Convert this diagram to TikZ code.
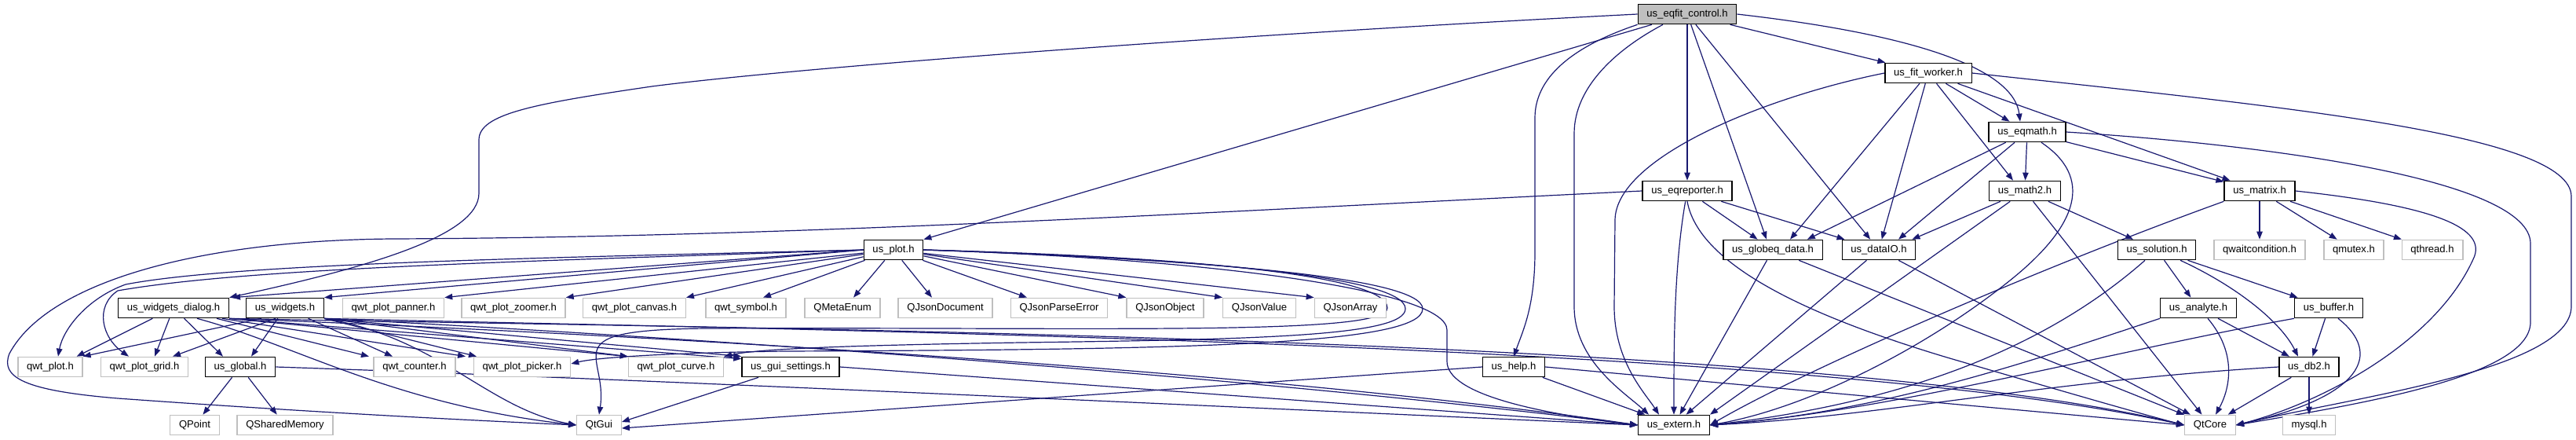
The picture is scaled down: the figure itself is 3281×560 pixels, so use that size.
\documentclass[tikz,border=0pt]{standalone}
\usepackage{fontspec}
\setmainfont{Liberation Sans}
\usetikzlibrary{arrows.meta,calc,backgrounds}
\definecolor{dgedge}{RGB}{25,25,112}
\definecolor{dggray}{RGB}{191,191,191}
\tikzset{
  dgFile/.style={draw=black, line width=1pt, fill=white, minimum height=19pt,
                 inner xsep=8.4pt, inner ysep=0pt,
                 font=\fontsize{9.8pt}{11pt}\selectfont},
  dgSys/.style={dgFile, draw=dggray},
  dgRoot/.style={dgFile, fill=dggray},
  dgEdge/.style={-{Triangle[length=7.5pt,width=5.6pt]}, line width=0.9pt, draw=dgedge}
}

\begin{document}
\begin{tikzpicture}[x=0.75pt,y=-0.75pt]
  \useasboundingbox (0,0) rectangle (3281,560);

  \node[dgRoot] (root) at (2149,18) {us\_eqfit\_control.h};
  \node[dgFile] (fitw) at (2456,93) {us\_fit\_worker.h};
  \node[dgFile] (eqmath) at (2582,168) {us\_eqmath.h};
  \node[dgFile] (eqrep) at (2149,243) {us\_eqreporter.h};
  \node[dgFile] (math2) at (2579,243) {us\_math2.h};
  \node[dgFile] (matrix) at (2878,243) {us\_matrix.h};
  \node[dgFile] (plot) at (1138,318) {us\_plot.h};
  \node[dgFile] (globeq) at (2258,318) {us\_globeq\_data.h};
  \node[dgFile] (dataio) at (2393,318) {us\_dataIO.h};
  \node[dgFile] (solution) at (2747,318) {us\_solution.h};
  \node[dgSys] (qwait) at (2878,318) {qwaitcondition.h};
  \node[dgSys] (qmutex) at (2998,318) {qmutex.h};
  \node[dgSys] (qthread) at (3098,318) {qthread.h};
  \node[dgFile] (wdialog) at (221,392) {us\_widgets\_dialog.h};
  \node[dgFile] (widgets) at (363,392) {us\_widgets.h};
  \node[dgSys] (panner) at (501,392) {qwt\_plot\_panner.h};
  \node[dgSys] (zoomer) at (654,392) {qwt\_plot\_zoomer.h};
  \node[dgSys] (canvas) at (808,392) {qwt\_plot\_canvas.h};
  \node[dgSys] (symbol) at (950,392) {qwt\_symbol.h};
  \node[dgSys] (metaenum) at (1073,392) {QMetaEnum};
  \node[dgSys] (jdoc) at (1204,392) {QJsonDocument};
  \node[dgSys] (jerr) at (1349,392) {QJsonParseError};
  \node[dgSys] (jobj) at (1484,392) {QJsonObject};
  \node[dgSys] (jval) at (1604,392) {QJsonValue};
  \node[dgSys] (jarr) at (1720,392) {QJsonArray};
  \node[dgFile] (analyte) at (2800,392) {us\_analyte.h};
  \node[dgFile] (buffer) at (2966,392) {us\_buffer.h};
  \node[dgSys] (qwtplot) at (64,467) {qwt\_plot.h};
  \node[dgSys] (grid) at (184,467) {qwt\_plot\_grid.h};
  \node[dgFile] (global) at (306,467) {us\_global.h};
  \node[dgSys] (counter) at (528,467) {qwt\_counter.h};
  \node[dgSys] (picker) at (665,467) {qwt\_plot\_picker.h};
  \node[dgSys] (curve) at (861,467) {qwt\_plot\_curve.h};
  \node[dgFile] (gui) at (1007,467) {us\_gui\_settings.h};
  \node[dgFile] (help) at (1928,467) {us\_help.h};
  \node[dgFile] (db2) at (2941,467) {us\_db2.h};
  \node[dgSys] (qpoint) at (248,541) {QPoint};
  \node[dgSys] (qshm) at (363,541) {QSharedMemory};
  \node[dgSys] (qtgui) at (763,541) {QtGui};
  \node[dgFile] (extern) at (2132,541) {us\_extern.h};
  \node[dgSys] (qtcore) at (2815,541) {QtCore};
  \node[dgSys] (mysql) at (2941,541) {mysql.h};

  \begin{scope}[on background layer]
  \draw[dgEdge] (root.west) .. controls (1500,48) and (1000,88) .. (830,110) .. controls (680,132) and (610,145) .. (610,178) -- (610,246) .. controls (610,300) and (470,340) .. (wdialog.north east);
  \draw[dgEdge] (root) -- (plot.north east);
  \draw[dgEdge] (root.south west) .. controls (2000,60) and (1955,100) .. (1955,150) -- (1955,320) .. controls (1955,390) and (1940,420) .. (help.north);
  \draw[dgEdge] ($(root.south)+(-31,0)$) .. controls (2060,62) and (2005,110) .. (2005,170) -- (2005,390) .. controls (2005,460) and (2070,500) .. ($(extern.north)+(-32,0)$);
  \draw[dgEdge] (root) -- (eqrep);
  \draw[dgEdge] (root) -- ($(globeq.north)+(-8,0)$);
  \draw[dgEdge] (root) -- (dataio);
  \draw[dgEdge] (root) -- (fitw);
  \draw[dgEdge] (root.east) .. controls (2450,45) and (2565,90) .. ($(eqmath.north)+(-9,0)$);

  \draw[dgEdge] (fitw.west) .. controls (2250,123) and (2058,200) .. (2057,280) -- (2056,390) .. controls (2056,460) and (2095,500) .. ($(extern.north)+(-19,0)$);
  \draw[dgEdge] (fitw) -- ($(globeq.north)+(22,0)$);
  \draw[dgEdge] (fitw) -- (dataio);
  \draw[dgEdge] (fitw) -- ($(math2.north)+(-15,0)$);
  \draw[dgEdge] (fitw) -- (eqmath);
  \draw[dgEdge] (fitw) -- (matrix);
  \draw[dgEdge] (fitw.east) .. controls (2900,135) and (3275,170) .. (3275,250) -- (3275,390) .. controls (3275,470) and (3000,505) .. (qtcore.east);

  \draw[dgEdge] (eqmath) -- (math2);
  \draw[dgEdge] (eqmath) -- (matrix);
  \draw[dgEdge] (eqmath.east) .. controls (2900,185) and (3223,230) .. (3223,310) -- (3223,410) .. controls (3223,480) and (3000,515) .. (qtcore.east);
  \draw[dgEdge] (eqmath) -- ($(globeq.north east)+(-20,0)$);
  \draw[dgEdge] (eqmath) -- ($(dataio.north)+(25,0)$);
  \draw[dgEdge] ($(eqmath.south)+(18,0)$) .. controls (2665,225) and (2650,285) .. (2560,357) .. controls (2450,445) and (2300,520) .. (extern.east);

  \draw[dgEdge] (eqrep) -- (globeq);
  \draw[dgEdge] (eqrep) -- ($(dataio.north west)+(4,0)$);
  \draw[dgEdge] (eqrep) .. controls (2132,340) and (2132,440) .. (extern);
  \draw[dgEdge] (eqrep.south) .. controls (2165,345) and (2330,410) .. (2480,455) .. controls (2600,490) and (2720,525) .. (qtcore.west);
  \draw[dgEdge] (eqrep.west) .. controls (1500,272) and (1000,302) .. (500,304) .. controls (250,306) and (60,360) .. (12,450) .. controls (0,480) and (30,497) .. (150,507) .. controls (400,525) and (600,535) .. (qtgui.west);

  \draw[dgEdge] (math2) -- ($(dataio.north east)+(-5,0)$);
  \draw[dgEdge] (math2) -- (extern.north east);
  \draw[dgEdge] (math2) -- (solution);
  \draw[dgEdge] (math2) -- (qtcore);

  \draw[dgEdge] (matrix) -- (qwait);
  \draw[dgEdge] (matrix) -- (qmutex);
  \draw[dgEdge] (matrix) -- (qthread);
  \draw[dgEdge] (matrix.east) .. controls (3100,262) and (3170,290) .. (3150,330) .. controls (3100,440) and (2950,515) .. (qtcore.east);
  \draw[dgEdge] (matrix.south west) .. controls (2600,340) and (2300,470) .. (extern.east);

  \draw[dgEdge] (solution) -- (analyte);
  \draw[dgEdge] (solution) -- (buffer);
  \draw[dgEdge] ($(solution.south)+(30,0)$) .. controls (2850,365) and (2905,410) .. ($(db2.north)+(-14,0)$);
  \draw[dgEdge] ($(solution.south)+(-15,0)$) .. controls (2620,430) and (2450,510) .. (extern.east);

  \draw[dgEdge] (analyte) -- (db2);
  \draw[dgEdge] ($(analyte.south)+(12,0)$) .. controls (2850,450) and (2840,495) .. ($(qtcore.north)+(7,0)$);
  \draw[dgEdge] (analyte.south west) .. controls (2600,455) and (2400,525) .. (extern.east);

  \draw[dgEdge] (buffer) -- (db2);
  \draw[dgEdge] ($(buffer.south)+(12,0)$) .. controls (3035,450) and (3010,505) .. (qtcore.east);
  \draw[dgEdge] (buffer.south west) .. controls (2700,445) and (2400,525) .. (extern.east);

  \draw[dgEdge] (db2) -- (mysql);
  \draw[dgEdge] (db2) -- (qtcore);
  \draw[dgEdge] (db2.west) .. controls (2600,485) and (2400,530) .. (extern.east);

  \draw[dgEdge] (globeq) -- (extern);
  \draw[dgEdge] (globeq) -- (qtcore);
  \draw[dgEdge] (dataio) -- (extern);
  \draw[dgEdge] (dataio) -- (qtcore);

  \draw[dgEdge] (help.west) -- ($(qtgui.east)+(0,4)$);
  \draw[dgEdge] (help) -- (extern);
  \draw[dgEdge] (help.east) -- (qtcore.west);

  \draw[dgEdge] (gui) -- ($(qtgui.east)+(0,-4)$);
  \draw[dgEdge] (gui.east) -- (extern.west);

  \draw[dgEdge] (plot.west) -- ($(wdialog.north east)+(4,0)$);
  \draw[dgEdge] (plot.west) -- (widgets.north east);
  \draw[dgEdge] (plot.west) .. controls (700,328) and (300,335) .. (160,362) .. controls (110,380) and (80,420) .. ($(qwtplot.north)+(10,0)$);
  \draw[dgEdge] (plot.west) .. controls (700,332) and (320,340) .. (150,370) .. controls (120,390) and (130,430) .. ($(grid.north)+(-20,0)$);
  \draw[dgEdge] (plot) -- (panner.north east);
  \draw[dgEdge] (plot) -- (zoomer.north east);
  \draw[dgEdge] (plot) -- (canvas.north east);
  \draw[dgEdge] (plot) -- ($(symbol.north)+(22,0)$);
  \draw[dgEdge] (plot) -- ($(metaenum.north)+(14,0)$);
  \draw[dgEdge] (plot) -- ($(jdoc.north)+(-17,0)$);
  \draw[dgEdge] (plot) -- ($(jerr.north)+(-41,0)$);
  \draw[dgEdge] (plot) -- (jobj.north west);
  \draw[dgEdge] (plot) -- (jval.north west);
  \draw[dgEdge] (plot) -- (jarr.north west);
  \draw[dgEdge] (plot.east) .. controls (1450,325) and (1767,345) .. (1767,392) .. controls (1767,428) and (1400,416) .. (900,418) .. controls (700,420) and (775,450) .. (qtgui.north);
  \draw[dgEdge] (plot.east) .. controls (1500,328) and (1790,350) .. (1790,393) .. controls (1790,428) and (1600,432) .. (1300,436) .. controls (1050,440) and (960,445) .. (curve.north east);
  \draw[dgEdge] (plot.east) .. controls (1520,330) and (1812,352) .. (1812,393) .. controls (1812,440) and (1500,445) .. (1000,447) .. controls (850,449) and (760,455) .. ($(picker.east)+(0,-4)$);
  \draw[dgEdge] (plot.east) .. controls (1550,330) and (1843,370) .. (1843,420) -- (1843,460) .. controls (1843,500) and (1950,525) .. (extern.west);

  \draw[dgEdge] (wdialog) -- ($(qwtplot.north east)+(-8,0)$);
  \draw[dgEdge] (wdialog) -- ($(grid.north)+(13,0)$);
  \draw[dgEdge] (wdialog) -- ($(global.north)+(-22,0)$);
  \draw[dgEdge] ($(wdialog.south)+(55,0)$) -- ($(counter.north)+(-58,0)$);
  \draw[dgEdge] ($(wdialog.south)+(62,0)$) -- ($(picker.north)+(-72,0)$);
  \draw[dgEdge] (wdialog.south east) -- (curve.north west);
  \draw[dgEdge] (wdialog.south east) -- ($(gui.north west)+(0,3)$);
  \draw[dgEdge] ($(wdialog.south)+(30,0)$) .. controls (380,440) and (500,515) .. (qtgui.west);
  \draw[dgEdge] (wdialog.south east) .. controls (800,425) and (1600,470) .. (extern.west);
  \draw[dgEdge] (wdialog.south east) .. controls (900,418) and (2300,425) .. (qtcore.west);

  \draw[dgEdge] ($(widgets.south)+(-30,0)$) -- (qwtplot.north east);
  \draw[dgEdge] ($(widgets.south)+(-12,0)$) -- ($(grid.north)+(36,0)$);
  \draw[dgEdge] (widgets) -- ($(global.north)+(14,0)$);
  \draw[dgEdge] (widgets) -- ($(counter.north)+(-28,0)$);
  \draw[dgEdge] (widgets.south east) -- ($(picker.north)+(-58,0)$);
  \draw[dgEdge] (widgets.south east) -- (curve.north west);
  \draw[dgEdge] (widgets.south east) -- (gui.north west);
  \draw[dgEdge] (widgets.south east) .. controls (560,430) and (620,520) .. (qtgui.west);
  \draw[dgEdge] (widgets.south east) .. controls (900,430) and (1600,480) .. (extern.west);
  \draw[dgEdge] (widgets.south east) .. controls (1000,420) and (2300,435) .. (qtcore.west);

  \draw[dgEdge] (global) -- (qpoint);
  \draw[dgEdge] (global) -- (qshm);
  \draw[dgEdge] (global.east) .. controls (800,482) and (1500,515) .. (extern.west);
  \end{scope}
\end{tikzpicture}
\end{document}
